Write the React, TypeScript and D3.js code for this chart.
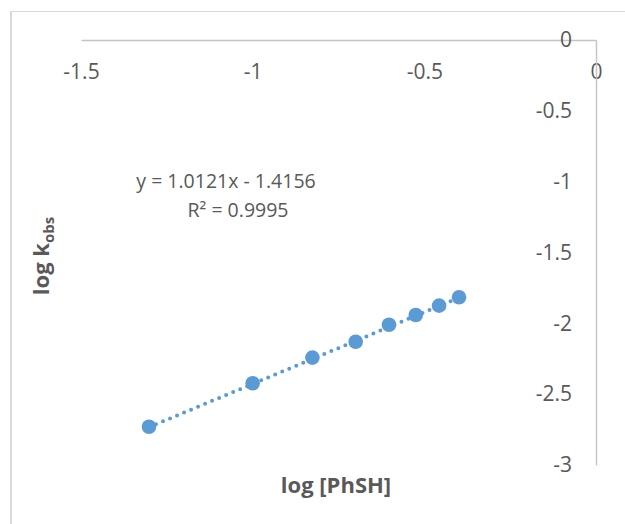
import React, { useEffect, useRef } from "react";
import * as d3 from "d3";

// log [PhSH] vs log k_obs
const logPhSH = [-1.302, -1.0, -0.826, -0.7, -0.603, -0.525, -0.457, -0.399];
const logKobs = [-2.73, -2.423, -2.242, -2.13, -2.01, -1.941, -1.875, -1.816];
const xTicks = [-1.5, -1, -0.5, 0];
const yTicks = [0, -0.5, -1, -1.5, -2, -2.5, -3];
const slope = 1.0121;
const intercept = -1.4156;
const r2 = 0.9995;

const W = 625;
const H = 524;
const FONT = "'Open Sans', 'Liberation Sans', sans-serif";
const TEXT = "#595959";
const BLUE = "#5B9BD5";

export default function App() {
  const svgRef = useRef<SVGSVGElement>(null);

  useEffect(() => {
    const svg = d3.select(svgRef.current);
    svg.selectAll("*").remove();

    const x = d3.scaleLinear().domain([-1.5, 0]).range([81, 596]);
    const y = d3.scaleLinear().domain([-3, 0]).range([465, 40]);
    const fmt = (d: d3.NumberValue) => String(d); // plain hyphen, like Excel

    // chart frame (only top/left visible in the crop)
    svg.append("line").attr("x1", 11).attr("x2", W).attr("y1", 11.5).attr("y2", 11.5)
      .attr("stroke", "#d9d9d9").attr("stroke-width", 1);
    svg.append("line").attr("x1", 11).attr("x2", 11).attr("y1", 11).attr("y2", H)
      .attr("stroke", "#d9d9d9").attr("stroke-width", 2);

    // x axis sits at y = 0 (top)
    const xAxis = svg.append("g")
      .attr("transform", `translate(0,${y(0)})`)
      .call(d3.axisBottom(x).tickValues(xTicks).tickSize(0).tickPadding(24).tickFormat(fmt));
    xAxis.select(".domain").attr("stroke", "#c4c4c4").attr("stroke-width", 1.4);
    xAxis.selectAll("text").attr("font-family", FONT).attr("font-size", 21).attr("fill", TEXT);

    // y axis sits at x = 0 (right)
    const yAxis = svg.append("g")
      .attr("transform", `translate(${x(0)},0)`)
      .call(d3.axisLeft(y).tickValues(yTicks).tickSize(0).tickPadding(24).tickFormat(fmt));
    yAxis.select(".domain").attr("stroke", "#c4c4c4").attr("stroke-width", 1.4);
    yAxis.selectAll("text").attr("font-family", FONT).attr("font-size", 21).attr("fill", TEXT);

    // linear trendline, dotted
    const [x0, x1] = d3.extent(logPhSH) as [number, number];
    const line = d3.line<number>().x((d) => x(d)).y((d) => y(slope * d + intercept));
    svg.append("path")
      .datum([x0, x1])
      .attr("d", line)
      .attr("fill", "none")
      .attr("stroke", BLUE)
      .attr("stroke-width", 4)
      .attr("stroke-linecap", "round")
      .attr("stroke-dasharray", "0 7.6");

    svg.append("g")
      .selectAll("circle")
      .data(logPhSH)
      .join("circle")
      .attr("cx", (d) => x(d))
      .attr("cy", (_, i) => y(logKobs[i]))
      .attr("r", 7.3)
      .attr("fill", BLUE);

    // equation label
    const eq = svg.append("g").attr("font-family", FONT).attr("font-size", 19.5).attr("fill", TEXT)
      .attr("text-anchor", "middle");
    eq.append("text").attr("x", 226).attr("y", 188)
      .text(`y = ${slope}x - ${Math.abs(intercept)}`);
    eq.append("text").attr("x", 238).attr("y", 217).text(`R² = ${r2}`);

    // axis titles
    svg.append("text")
      .attr("x", 336).attr("y", 493)
      .attr("text-anchor", "middle")
      .attr("font-family", FONT).attr("font-size", 22).attr("font-weight", "bold")
      .attr("fill", TEXT)
      .text("log [PhSH]");

    const yt = svg.append("text")
      .attr("transform", "translate(49,256) rotate(-90)")
      .attr("text-anchor", "middle")
      .attr("font-family", FONT).attr("font-size", 22).attr("font-weight", "bold")
      .attr("fill", TEXT);
    yt.append("tspan").text("log k");
    yt.append("tspan").attr("font-size", 15).attr("dy", 5).text("obs");
  }, []);

  return (
    <svg
      ref={svgRef}
      width={W}
      height={H}
      style={{ position: "absolute", left: 0, top: 0, background: "#fff" }}
    />
  );
}
